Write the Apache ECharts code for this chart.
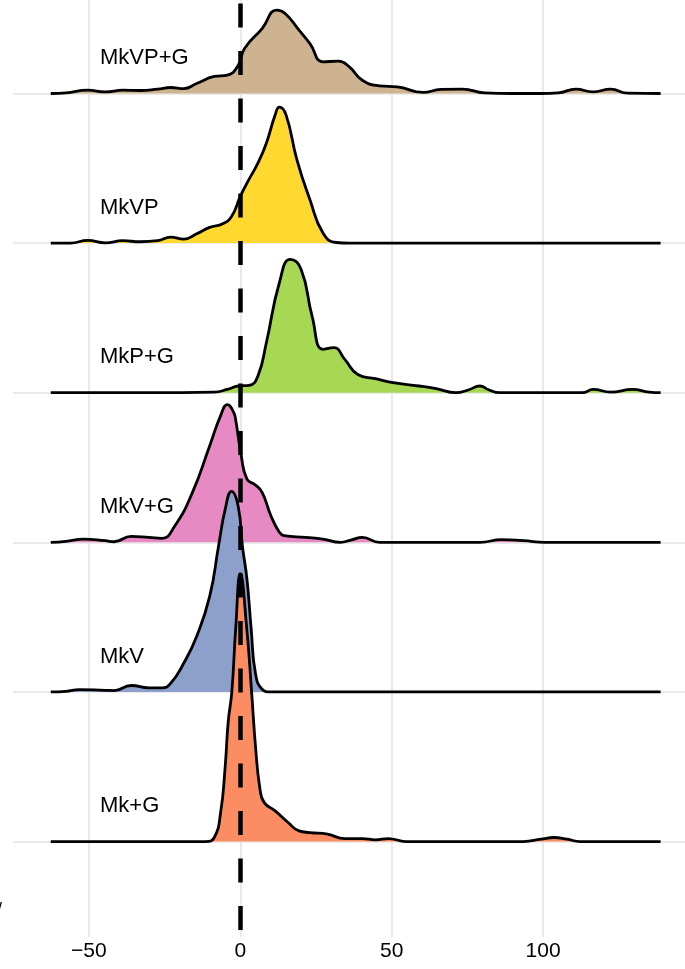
<!DOCTYPE html>
<html><head><meta charset="utf-8">
<script src="https://cdn.jsdelivr.net/npm/echarts@6/dist/echarts.min.js"></script>
<style>html,body{margin:0;padding:0;background:#fff}#c{width:685px;height:969px}</style>
</head><body><div id="c"></div>
<script>
// ridge categories, bottom to top
const categories = ['Mk+G','MkV','MkV+G','MkP+G','MkVP','MkVP+G'];
const xTicks = [-50, 0, 50, 100];
// density curves: [x, height in ridge-spacing units]
const densMkVPG = [[-62.6,0],[-57.6,0.004],[-50.4,0.022],[-44.6,0.011],[-38.8,0.022],[-33.1,0.02],[-27.3,0.029],[-23,0.04],[-18.7,0.033],[-14.4,0.067],[-8.6,0.114],[-4.3,0.123],[-0.7,0.189],[1.4,0.301],[7.2,0.434],[12,0.557],[14.8,0.535],[19.4,0.423],[23,0.334],[27.3,0.212],[32.4,0.216],[36,0.178],[40.3,0.089],[46,0.051],[51.8,0.045],[60.4,0.007],[66.2,0.027],[73.4,0.029],[80.6,0.004],[90,0],[99.3,0],[105,0.004],[110.8,0.029],[116.5,0.011],[122.3,0.029],[128,0.002],[138.8,0]];
const densMkVP = [[-62.6,0],[-56.1,0],[-50.4,0.018],[-44.6,0.002],[-38.8,0.016],[-33.1,0.009],[-27.3,0.016],[-23,0.04],[-18.7,0.027],[-14.4,0.062],[-10.1,0.105],[-5.8,0.129],[-2.9,0.178],[0,0.312],[2.2,0.401],[5.8,0.535],[8.6,0.668],[11.5,0.857],[12.9,0.909],[15.1,0.857],[18.7,0.557],[23,0.29],[27.3,0.067],[31.7,0.004],[36,0],[60,0],[100,0],[138.8,0]];
const densMkPG = [[-62.6,0],[-30,0],[-8.6,0.004],[-4.3,0.022],[-0.7,0.045],[2.9,0.049],[5.8,0.111],[8.6,0.334],[12.9,0.735],[16.5,0.891],[20.1,0.824],[23.7,0.512],[27.3,0.29],[30.9,0.301],[34.5,0.223],[38.8,0.122],[44.6,0.094],[50.4,0.067],[59,0.045],[64.7,0.027],[71.2,0],[75.5,0.02],[79.1,0.045],[82,0.02],[85.6,0],[100,0],[113,0],[116.5,0.022],[122.3,0.004],[129.5,0.022],[135,0.004],[138.8,0]];
const densMkVG = [[-62.6,0],[-57.6,0.007],[-51.8,0.022],[-44.6,0.011],[-41.7,0.004],[-36,0.04],[-30.2,0.033],[-25.9,0.027],[-21.6,0.111],[-15.8,0.334],[-10.1,0.646],[-6.5,0.847],[-4.3,0.92],[-2.2,0.869],[-1.4,0.802],[0.3,0.579],[2.2,0.423],[5,0.383],[7.2,0.334],[10.1,0.178],[12.9,0.067],[14.4,0.045],[21.6,0.033],[27.3,0.022],[33.1,0],[36.5,0.015],[40.3,0.033],[46,0],[60,0],[79.1,0],[86.3,0.018],[93.5,0.011],[100.7,0],[120,0],[138.8,0]];
const densMkV = [[-62.6,0],[-57.6,0.004],[-53.2,0.016],[-44.6,0.011],[-41.7,0.009],[-36,0.043],[-30.2,0.027],[-25.9,0.027],[-23,0.058],[-18.7,0.192],[-14.4,0.373],[-10.1,0.64],[-7.2,0.974],[-5,1.22],[-2.9,1.34],[-0.7,1.24],[0.7,0.974],[2.2,0.753],[3.6,0.419],[5,0.125],[7.2,0.018],[10.1,0],[30,0],[80,0],[138.8,0]];
const densMkG = [[-62.6,0],[-30,0],[-11.5,0],[-8.6,0.027],[-6.5,0.194],[-5,0.5],[-4,0.8],[-2.8,1.0],[-1.5,1.43],[0,1.79],[2.1,1.43],[3.8,0.98],[5,0.64],[6.5,0.35],[7.9,0.26],[11.5,0.205],[15.8,0.127],[19.4,0.071],[23,0.06],[28.8,0.049],[34.5,0.02],[40.3,0.02],[44.6,0.011],[48.9,0.02],[54.7,0],[75,0],[93.5,0],[99.3,0.016],[103.6,0.027],[107.9,0.016],[112.2,0],[125,0],[138.8,0]];

const densities = [densMkG, densMkV, densMkVG, densMkPG, densMkVP, densMkVPG];
const palette = ['#FC8D62', '#8DA0CB', '#E78AC3', '#A6D854', '#FFD92F', '#CDB38F'];
const FONT = "'Liberation Sans', Arial, Helvetica, sans-serif";

const ridgeSeries = [];
for (let i = categories.length - 1; i >= 0; i--) {
  ridgeSeries.push({
    name: categories[i],
    type: 'line',
    data: densities[i].map(p => [p[0], i + p[1]]),
    smooth: 0.5,
    symbol: 'none',
    lineStyle: { color: '#000', width: 2.8, join: 'round' },
    areaStyle: { color: palette[i], opacity: 1, origin: i },
    z: 3
  });
}

const chart = echarts.init(document.getElementById('c'), null, { renderer: 'canvas' });
chart.setOption({
  animation: false,
  backgroundColor: '#fff',
  grid: { left: 13, right: 0, top: 0, bottom: 32, containLabel: false },
  xAxis: {
    type: 'value', min: -75.07, max: 146.86,
    axisLine: { show: false }, axisTick: { show: false, customValues: xTicks }, splitLine: { show: false },
    axisLabel: {
      customValues: xTicks, color: '#000', fontSize: 21, fontFamily: FONT, margin: 4,
      formatter: v => (v < 0 ? '\u2212' + Math.abs(v) : String(v))
    }
  },
  yAxis: {
    type: 'value', min: -0.638, max: 5.625,
    axisLine: { show: false }, axisTick: { show: false }, splitLine: { show: false },
    axisLabel: {
      inside: true, customValues: categories.map((c, i) => i),
      formatter: v => '{t|' + categories[Math.round(v)] + '}',
      rich: { t: { color: '#000', fontSize: 22, fontFamily: FONT, padding: [0, 0, 71, 0] } },
      margin: 87, align: 'left', verticalAlign: 'middle'
    }
  },
  graphic: [{ type: 'text', x: -3, y: 901, style: { text: '/', font: '18px ' + FONT, fill: '#000' } }],
  series: [
    {
      type: 'line', data: [], z: 1, silent: true,
      markLine: {
        z: 1, silent: true, symbol: 'none', label: { show: false },
        lineStyle: { color: '#e4e4e4', width: 1.6, type: 'solid' },
        data: xTicks.map(v => ({ xAxis: v })).concat(categories.map((c, i) => ({ yAxis: i })))
      }
    }
  ].concat(ridgeSeries).concat([
    {
      type: 'line', data: [], z: 10, silent: true,
      markLine: {
        z: 20, silent: true, symbol: 'none', label: { show: false },
        lineStyle: { color: '#000', width: 4.5, type: [24, 23.5], dashOffset: 40.5 },
        data: [{ xAxis: 0 }]
      }
    }
  ])
});
</script></body></html>
